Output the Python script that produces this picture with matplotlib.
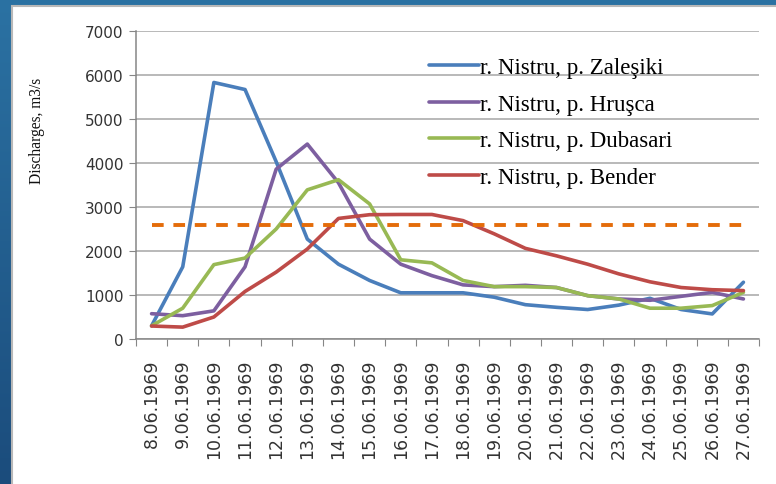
import matplotlib
matplotlib.use("Agg")
import matplotlib.pyplot as plt
from matplotlib.patches import Rectangle
import numpy as np

dates = ["8.06.1969", "9.06.1969", "10.06.1969", "11.06.1969", "12.06.1969",
         "13.06.1969", "14.06.1969", "15.06.1969", "16.06.1969", "17.06.1969",
         "18.06.1969", "19.06.1969", "20.06.1969", "21.06.1969", "22.06.1969",
         "23.06.1969", "24.06.1969", "25.06.1969", "26.06.1969", "27.06.1969"]

zalesiki = [300, 1640, 5830, 5670, 4030, 2270, 1700, 1330, 1050, 1050,
            1050, 950, 780, 720, 670, 770, 925, 670, 570, 1290]
hrusca = [575, 530, 640, 1640, 3860, 4430, 3550, 2270, 1700, 1440,
          1230, 1190, 1220, 1170, 985, 910, 880, 970, 1060, 910]
dubasari = [300, 700, 1690, 1840, 2500, 3390, 3620, 3070, 1800, 1730,
            1330, 1190, 1190, 1170, 985, 910, 700, 700, 760, 1060]
bender = [295, 270, 500, 1080, 1520, 2045, 2740, 2825, 2830, 2830,
          2690, 2390, 2060, 1890, 1700, 1480, 1300, 1170, 1120, 1100]
threshold = [2600] * len(dates)

series = [
    ("r. Nistru, p. Zaleşiki", zalesiki, "#4A7EBB"),
    ("r. Nistru, p. Hruşca", hrusca, "#7D5FA0"),
    ("r. Nistru, p. Dubasari", dubasari, "#98B954"),
    ("r. Nistru, p. Bender", bender, "#BE4B48"),
]

W, H = 776, 485
fig = plt.figure(figsize=(W / 100, H / 100), dpi=100)

# blue gradient backdrop with the white chart panel
bg = fig.add_axes([0, 0, 1, 1])
grad = np.linspace(0, 1, 256).reshape(-1, 1)
cmap = matplotlib.colors.LinearSegmentedColormap.from_list("bg", ["#2B72A3", "#1B4C7C"])
bg.imshow(grad, aspect="auto", cmap=cmap, extent=[0, W, H, 0])
bg.add_patch(Rectangle((12, 7), W, H, facecolor="white", edgecolor="#B8B8B8", linewidth=1.5))
bg.set_xlim(0, W)
bg.set_ylim(H, 0)
bg.axis("off")

ax = fig.add_axes([136 / W, (H - 340) / H, 623 / W, 308 / H])
x = np.arange(len(dates))

for name, vals, col in series:
    ax.plot(x, vals, color=col, linewidth=2.6, label=name, solid_capstyle="round")
ax.plot(x, threshold, color="#E46C0A", linewidth=2.8, linestyle=(0, (3.0, 2.5)))

ax.set_xlim(-0.5, len(dates) - 0.5)
ax.set_ylim(0, 7000)
ax.set_yticks(range(0, 7001, 1000))
ax.yaxis.grid(True, color="#A6A6A6", linewidth=1.1)
ax.set_axisbelow(True)

ax.set_xticks(np.arange(-0.5, len(dates), 1))
ax.set_xticklabels([])
ax.set_xticks(x, minor=True)
ax.set_xticklabels(dates, minor=True, rotation=90, fontsize=12.5, family="DejaVu Sans", color="#333333")
ax.tick_params(axis="x", which="major", length=5, color="#868686")
ax.tick_params(axis="x", which="minor", length=0, pad=14)
ax.tick_params(axis="y", length=5, color="#868686", labelsize=11, labelcolor="#333333", pad=4)
for lab in ax.get_yticklabels():
    lab.set_family("DejaVu Sans")

for s in ["top", "right"]:
    ax.spines[s].set_visible(False)
for s in ["left", "bottom"]:
    ax.spines[s].set_color("#868686")
    ax.spines[s].set_linewidth(1.1)

ax.set_ylabel("Discharges, m3/s", family="Liberation Serif", fontsize=11.2, color="#111111")
ax.yaxis.set_label_coords(-0.146, 0.68)

leg = ax.legend(loc="upper left", bbox_to_anchor=(0.455, 0.945), frameon=False,
                prop={"family": "Liberation Serif", "size": 16.5},
                handlelength=2.2, handletextpad=0.05, labelspacing=0.68, borderaxespad=0)

fig.savefig("out.png", dpi=100)
